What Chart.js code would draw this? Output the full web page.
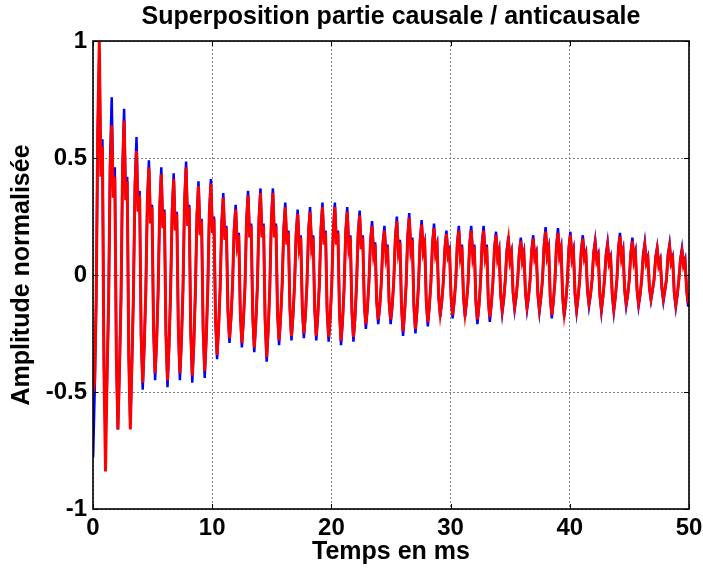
<!DOCTYPE html>
<html><head><meta charset="utf-8">
<script src="https://cdn.jsdelivr.net/npm/chart.js@4/dist/chart.umd.min.js"></script>
<style>html,body{margin:0;padding:0;background:#fff}canvas{display:block}</style>
</head><body>
<canvas id="c" width="703" height="573"></canvas>
<script>
const titleText = 'Superposition partie causale / anticausale';
const xTitle = 'Temps en ms';
const yTitle = 'Amplitude normalisée';
const xTicks = [0, 10, 20, 30, 40, 50];
const yTicks = [-1, -0.5, 0, 0.5, 1];
const sampleStartMs = 0.01;
const sampleStepMs = 0.13;

// blue trace (one row per ~1.04 ms cycle)
const blueValues = [
-0.78,-0.50,-0.10,0.62,0.95,0.45,0.58,-0.38,
-0.70,-0.45,-0.12,0.50,0.76,0.36,0.46,-0.36,
-0.66,-0.42,-0.10,0.46,0.71,0.34,0.42,-0.34,
-0.64,-0.40,-0.09,0.39,0.59,0.28,0.36,-0.27,
-0.49,-0.31,-0.07,0.32,0.49,0.23,0.30,-0.24,
-0.45,-0.29,-0.06,0.30,0.46,0.21,0.28,-0.26,
-0.48,-0.31,-0.07,0.28,0.435,0.20,0.27,-0.24,
-0.45,-0.29,-0.06,0.32,0.485,0.22,0.30,-0.25,
-0.46,-0.30,-0.07,0.26,0.40,0.18,0.24,-0.24,
-0.44,-0.28,-0.06,0.27,0.41,0.19,0.25,-0.20,
-0.36,-0.23,-0.05,0.23,0.35,0.16,0.21,-0.16,
-0.29,-0.19,-0.04,0.20,0.30,0.14,0.18,-0.17,
-0.31,-0.20,-0.05,0.24,0.36,0.17,0.22,-0.18,
-0.33,-0.21,-0.05,0.24,0.37,0.17,0.22,-0.20,
-0.37,-0.24,-0.06,0.24,0.37,0.17,0.22,-0.17,
-0.30,-0.19,-0.04,0.20,0.31,0.14,0.19,-0.15,
-0.28,-0.18,-0.04,0.18,0.28,0.13,0.17,-0.15,
-0.27,-0.18,-0.04,0.19,0.29,0.13,0.17,-0.15,
-0.28,-0.18,-0.04,0.20,0.31,0.14,0.19,-0.16,
-0.285,-0.19,-0.04,0.20,0.31,0.14,0.19,-0.17,
-0.30,-0.20,-0.05,0.19,0.29,0.13,0.17,-0.16,
-0.285,-0.19,-0.04,0.18,0.275,0.12,0.17,-0.13,
-0.23,-0.15,-0.03,0.15,0.23,0.10,0.14,-0.12,
-0.21,-0.14,-0.03,0.14,0.21,0.09,0.13,-0.12,
-0.21,-0.14,-0.03,0.16,0.25,0.11,0.15,-0.14,
-0.26,-0.17,-0.04,0.17,0.265,0.12,0.16,-0.14,
-0.25,-0.16,-0.04,0.15,0.235,0.11,0.14,-0.12,
-0.22,-0.14,-0.03,0.14,0.22,0.10,0.13,-0.10,
-0.18,-0.12,-0.03,0.12,0.19,0.09,0.11,-0.10,
-0.185,-0.12,-0.03,0.14,0.21,0.09,0.13,-0.10,
-0.18,-0.12,-0.03,0.14,0.21,0.09,0.13,-0.12,
-0.21,-0.14,-0.03,0.14,0.21,0.09,0.13,-0.11,
-0.20,-0.13,-0.03,0.12,0.185,0.08,0.11,-0.09,
-0.165,-0.11,-0.02,0.11,0.165,0.07,0.10,-0.08,
-0.15,-0.10,-0.02,0.10,0.16,0.07,0.10,-0.08,
-0.15,-0.10,-0.02,0.11,0.17,0.08,0.10,-0.09,
-0.16,-0.10,-0.02,0.13,0.205,0.09,0.12,-0.10,
-0.185,-0.12,-0.03,0.13,0.20,0.09,0.12,-0.10,
-0.18,-0.12,-0.03,0.12,0.185,0.08,0.11,-0.09,
-0.16,-0.10,-0.02,0.11,0.17,0.08,0.10,-0.07,
-0.135,-0.09,-0.02,0.10,0.15,0.07,0.09,-0.09,
-0.16,-0.10,-0.02,0.09,0.14,0.06,0.08,-0.09,
-0.16,-0.10,-0.02,0.12,0.18,0.08,0.11,-0.07,
-0.135,-0.09,-0.02,0.10,0.16,0.07,0.10,-0.07,
-0.135,-0.09,-0.02,0.09,0.14,0.06,0.08,-0.06,
-0.11,-0.07,-0.02,0.08,0.12,0.05,0.07,-0.06,
-0.115,-0.07,-0.02,0.09,0.135,0.06,0.08,-0.08,
-0.14,-0.09,-0.02,0.07,0.115,0.05,0.07,-0.07,
-0.135
];

// red trace
const redValues = [
-0.50,-0.45,-0.10,0.62,1.00,0.42,0.55,-0.40,
-0.84,-0.42,-0.12,0.45,0.64,0.33,0.42,-0.35,
-0.66,-0.40,-0.10,0.44,0.66,0.32,0.40,-0.34,
-0.66,-0.38,-0.09,0.37,0.53,0.27,0.34,-0.26,
-0.46,-0.30,-0.07,0.31,0.46,0.22,0.29,-0.23,
-0.42,-0.28,-0.06,0.29,0.43,0.20,0.27,-0.25,
-0.45,-0.30,-0.07,0.27,0.41,0.19,0.26,-0.23,
-0.42,-0.28,-0.06,0.31,0.46,0.21,0.29,-0.24,
-0.43,-0.29,-0.07,0.25,0.38,0.17,0.23,-0.23,
-0.41,-0.27,-0.06,0.26,0.39,0.18,0.24,-0.19,
-0.34,-0.22,-0.05,0.22,0.33,0.15,0.20,-0.15,
-0.27,-0.18,-0.04,0.19,0.28,0.13,0.17,-0.16,
-0.29,-0.19,-0.05,0.23,0.34,0.16,0.21,-0.17,
-0.31,-0.20,-0.05,0.23,0.35,0.16,0.21,-0.19,
-0.35,-0.23,-0.06,0.23,0.35,0.16,0.21,-0.16,
-0.28,-0.18,-0.04,0.19,0.29,0.13,0.18,-0.14,
-0.26,-0.17,-0.04,0.17,0.26,0.12,0.16,-0.14,
-0.25,-0.17,-0.04,0.18,0.27,0.12,0.16,-0.14,
-0.26,-0.17,-0.04,0.19,0.29,0.13,0.18,-0.15,
-0.265,-0.18,-0.04,0.19,0.29,0.13,0.18,-0.16,
-0.28,-0.19,-0.05,0.18,0.27,0.12,0.16,-0.15,
-0.265,-0.18,-0.04,0.17,0.255,0.11,0.16,-0.12,
-0.21,-0.14,-0.03,0.14,0.21,0.09,0.13,-0.11,
-0.19,-0.13,-0.03,0.13,0.19,0.08,0.12,-0.11,
-0.19,-0.13,-0.03,0.15,0.23,0.10,0.14,-0.13,
-0.24,-0.16,-0.04,0.16,0.245,0.11,0.15,-0.13,
-0.23,-0.15,-0.04,0.14,0.215,0.10,0.13,-0.11,
-0.20,-0.13,-0.03,0.13,0.20,0.09,0.12,-0.09,
-0.165,-0.11,-0.03,0.11,0.175,0.08,0.10,-0.09,
-0.17,-0.11,-0.03,0.13,0.19,0.08,0.12,-0.09,
-0.165,-0.11,-0.03,0.13,0.19,0.08,0.12,-0.11,
-0.19,-0.13,-0.03,0.13,0.19,0.08,0.12,-0.10,
-0.18,-0.12,-0.03,0.11,0.17,0.07,0.10,-0.08,
-0.15,-0.10,-0.02,0.10,0.15,0.06,0.09,-0.07,
-0.135,-0.09,-0.02,0.09,0.145,0.06,0.09,-0.07,
-0.135,-0.09,-0.02,0.10,0.155,0.07,0.09,-0.08,
-0.145,-0.09,-0.02,0.12,0.185,0.08,0.11,-0.09,
-0.17,-0.11,-0.03,0.12,0.18,0.08,0.11,-0.09,
-0.165,-0.11,-0.03,0.11,0.17,0.07,0.10,-0.08,
-0.145,-0.09,-0.02,0.10,0.155,0.07,0.09,-0.06,
-0.12,-0.08,-0.02,0.09,0.135,0.06,0.08,-0.08,
-0.145,-0.09,-0.02,0.08,0.125,0.05,0.07,-0.08,
-0.145,-0.09,-0.02,0.11,0.165,0.07,0.10,-0.06,
-0.12,-0.08,-0.02,0.09,0.145,0.06,0.09,-0.06,
-0.12,-0.08,-0.02,0.08,0.125,0.05,0.07,-0.05,
-0.10,-0.06,-0.02,0.07,0.11,0.04,0.06,-0.05,
-0.10,-0.06,-0.02,0.08,0.12,0.05,0.07,-0.07,
-0.125,-0.08,-0.02,0.06,0.10,0.04,0.06,-0.06,
-0.12
];

const FONT = '"Liberation Sans", Arial, Helvetica, sans-serif';
Chart.defaults.font.family = FONT;
Chart.defaults.color = '#000';

const toPoints = vals => vals.map((v, i) => ({ x: sampleStartMs + i * sampleStepMs, y: v }));

const framePlugin = {
  id: 'frame',
  afterDraw(chart) {
    const { ctx, chartArea: a, scales: { x, y } } = chart;
    ctx.save();
    ctx.strokeStyle = '#000';
    ctx.lineWidth = 1;
    ctx.beginPath();
    xTicks.forEach(v => {
      const px = Math.round(x.getPixelForValue(v)) + 0.5;
      ctx.moveTo(px, a.bottom); ctx.lineTo(px, a.bottom - 5);
      ctx.moveTo(px, a.top); ctx.lineTo(px, a.top + 5);
    });
    yTicks.forEach(v => {
      const py = Math.round(y.getPixelForValue(v)) + 0.5;
      ctx.moveTo(a.left, py); ctx.lineTo(a.left + 5, py);
      ctx.moveTo(a.right, py); ctx.lineTo(a.right - 5, py);
    });
    ctx.stroke();
    ctx.lineWidth = 1.6;
    ctx.strokeRect(a.left, a.top, a.right - a.left, a.bottom - a.top);
    ctx.font = 'bold 25px ' + FONT;
    ctx.fillStyle = '#000';
    ctx.textAlign = 'center';
    ctx.textBaseline = 'middle';
    ctx.fillText(titleText, (a.left + a.right) / 2, 17);
    ctx.restore();
  }
};

new Chart(document.getElementById('c'), {
  type: 'line',
  data: {
    datasets: [
      { label: 'anticausale', data: toPoints(redValues), borderColor: '#ff0000', borderWidth: 3, pointRadius: 0, tension: 0, fill: false },
      { label: 'causale', data: toPoints(blueValues), borderColor: '#0000ff', borderWidth: 2.5, pointRadius: 0, tension: 0, fill: false }
    ]
  },
  options: {
    responsive: false,
    animation: false,
    devicePixelRatio: 1,
    layout: { padding: { top: 41, right: 14, bottom: 0, left: 0 } },
    plugins: { legend: { display: false }, tooltip: { enabled: false }, title: { display: false } },
    scales: {
      x: {
        type: 'linear', min: 0, max: 50,
        afterBuildTicks: s => { s.ticks = xTicks.map(v => ({ value: v })); },
        afterFit: s => { s.height = 64; s.paddingLeft = 0; s.paddingRight = 0; },
        ticks: { font: { size: 24, weight: 'bold' }, color: '#000', padding: 5, maxRotation: 0, callback: v => String(v) },
        grid: { color: '#808080', lineWidth: 1, drawTicks: false },
        border: { display: false, dash: [2, 2] },
        title: { display: true, text: xTitle, font: { size: 25, weight: 'bold' }, color: '#000', padding: { top: 0, bottom: 6 } }
      },
      y: {
        min: -1, max: 1,
        afterBuildTicks: s => { s.ticks = yTicks.map(v => ({ value: v })); },
        afterFit: s => { s.width = 93; s.paddingTop = 0; s.paddingBottom = 0; },
        ticks: { font: { size: 24, weight: 'bold' }, color: '#000', padding: 6, callback: v => String(v) },
        grid: { color: '#808080', lineWidth: 1, drawTicks: false },
        border: { display: false, dash: [2, 2] },
        title: { display: true, text: yTitle, font: { size: 25, weight: 'bold' }, color: '#000', padding: { top: 7, bottom: 0 } }
      }
    }
  },
  plugins: [framePlugin]
});
</script>
</body></html>
